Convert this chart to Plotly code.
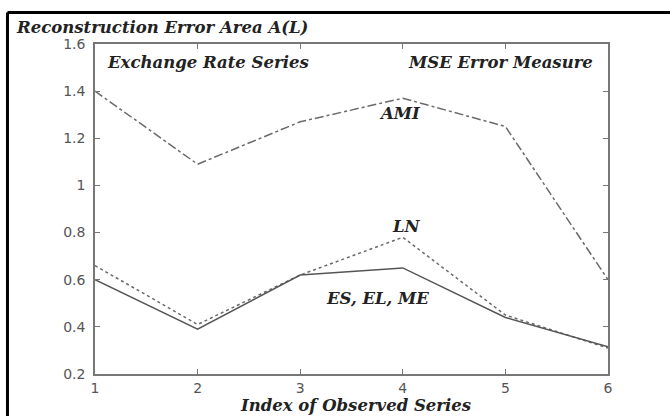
import plotly.graph_objects as go

x_index = [1, 2, 3, 4, 5, 6]
ami = [1.40, 1.09, 1.27, 1.37, 1.25, 0.60]
ln = [0.66, 0.41, 0.62, 0.78, 0.45, 0.31]
es_el_me = [0.60, 0.39, 0.62, 0.65, 0.44, 0.315]
x_ticks = [1, 2, 3, 4, 5, 6]
y_ticks = [0.2, 0.4, 0.6, 0.8, 1.0, 1.2, 1.4, 1.6]
y_tick_text = ["0.2", "0.4", "0.6", "0.8", "1", "1.2", "1.4", "1.6"]

line_col = "#6a6a6a"
axis_col = "#777777"
serif = "DejaVu Serif"

fig = go.Figure()
fig.add_trace(go.Scatter(x=x_index, y=ami, mode="lines", name="AMI",
                         line=dict(color=line_col, width=1.5, dash="dashdot")))
fig.add_trace(go.Scatter(x=x_index, y=ln, mode="lines", name="LN",
                         line=dict(color=line_col, width=1.5, dash="dot")))
fig.add_trace(go.Scatter(x=x_index, y=es_el_me, mode="lines", name="ES, EL, ME",
                         line=dict(color="#555555", width=1.5)))

ann_font = dict(family=serif, size=16.5, color="#222222")
annotations = [
    dict(text="<b><i>Reconstruction Error Area A(L)</i></b>", xref="paper", yref="paper",
         x=-0.158, y=1.051, xanchor="left", yanchor="middle", showarrow=False, font=ann_font),
    dict(text="<b><i>Exchange Rate Series</i></b>", xref="paper", yref="paper",
         x=0.0195, y=0.945, xanchor="left", yanchor="middle", showarrow=False, font=ann_font),
    dict(text="<b><i>MSE Error Measure</i></b>", xref="paper", yref="paper",
         x=0.974, y=0.945, xanchor="right", yanchor="middle", showarrow=False, font=ann_font),
    dict(text="<b><i>AMI</i></b>", x=3.97, y=1.307, showarrow=False, font=ann_font),
    dict(text="<b><i>LN</i></b>", x=4.04, y=0.824, showarrow=False, font=ann_font),
    dict(text="<b><i>ES, EL, ME</i></b>", x=3.75, y=0.522, showarrow=False, font=ann_font),
    dict(text="<b><i>Index of Observed Series</i></b>", xref="paper", yref="paper",
         x=0.507, y=-0.094, xanchor="center", yanchor="middle", showarrow=False, font=ann_font),
]

shapes = [
    dict(type="line", xref="paper", yref="paper", x0=-0.1706, x1=1.13, y0=1.0955, y1=1.0955,
         line=dict(color="black", width=3)),
    dict(type="line", xref="paper", yref="paper", x0=-0.1706, x1=-0.1706, y0=1.0955, y1=-0.14,
         line=dict(color="black", width=3)),
]

tick_font = dict(family="DejaVu Sans", size=14, color="#555555")
fig.update_layout(
    width=670, height=416,
    margin=dict(l=95, r=62, t=44, b=42),
    paper_bgcolor="white", plot_bgcolor="white",
    showlegend=False,
    annotations=annotations,
    shapes=shapes,
    xaxis=dict(range=[1, 6], tickvals=x_ticks, ticks="inside", ticklen=5, tickcolor=axis_col,
               showline=True, linecolor=axis_col, linewidth=1.5, mirror="ticks",
               showgrid=False, zeroline=False, tickfont=tick_font),
    yaxis=dict(range=[0.2, 1.6], tickvals=y_ticks, ticktext=y_tick_text, ticks="inside",
               ticklen=5, tickcolor=axis_col, showline=True, linecolor=axis_col, linewidth=1.5,
               mirror="ticks", showgrid=False, zeroline=False, tickfont=tick_font,
               ticklabelstandoff=5),
)

fig.write_html("out.html")
